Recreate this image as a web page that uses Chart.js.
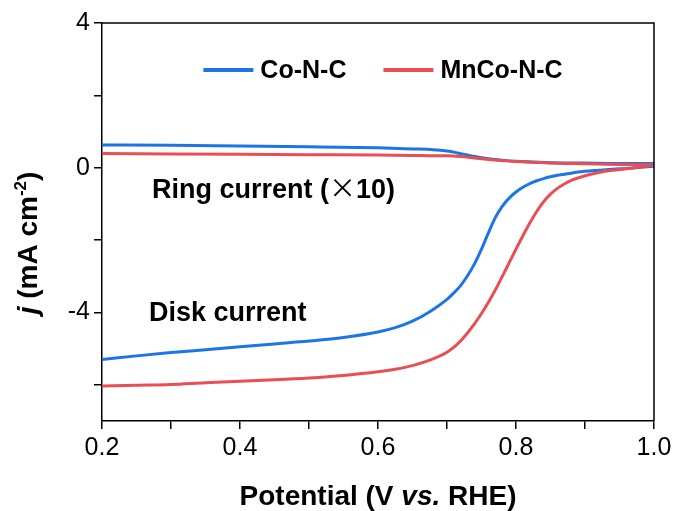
<!DOCTYPE html>
<html>
<head>
<meta charset="utf-8">
<script src="https://cdn.jsdelivr.net/npm/chart.js@4/dist/chart.umd.min.js"></script>
<style>
body { margin: 0; background: #fff; }
</style>
</head>
<body>
<canvas id="graph" width="678" height="511"></canvas>
<script>
// LSV data: potential (V vs. RHE), current density (mA cm-2)
var diskPotential = [0.20, 0.25, 0.30, 0.35, 0.40, 0.45, 0.50, 0.55, 0.60, 0.625, 0.65, 0.675,
    0.70, 0.71, 0.72, 0.73, 0.74, 0.75, 0.76, 0.77, 0.78, 0.79, 0.80, 0.81, 0.82, 0.83, 0.84, 0.85,
    0.86, 0.87, 0.88, 0.89, 0.90, 0.92, 0.94, 0.96, 0.98, 1.00]
var diskCoNC = [-5.30, -5.20, -5.11, -5.03, -4.95, -4.87, -4.79, -4.69, -4.54, -4.42, -4.24, -3.98,
    -3.64, -3.46, -3.25, -2.98, -2.65, -2.25, -1.80, -1.38, -1.07, -0.84, -0.67, -0.54, -0.44, -0.36, -0.30, -0.25,
    -0.21, -0.18, -0.15, -0.12, -0.10, -0.07, -0.04, -0.02, 0.01, 0.04]
var diskMnCoNC = [-6.03, -6.01, -5.99, -5.94, -5.90, -5.86, -5.81, -5.74, -5.64, -5.57, -5.47, -5.32,
    -5.10, -4.96, -4.78, -4.56, -4.31, -4.03, -3.72, -3.38, -3.01, -2.63, -2.25, -1.88, -1.53, -1.21, -0.94, -0.73,
    -0.57, -0.45, -0.35, -0.28, -0.22, -0.13, -0.07, -0.03, 0.02, 0.07]

// ring current, already multiplied by 10
var ringPotential = [0.20, 0.30, 0.40, 0.50, 0.60, 0.65, 0.68, 0.70, 0.72, 0.74, 0.76, 0.78, 0.80, 0.85, 0.90, 0.95, 1.00]
var ringCoNC = [0.63, 0.62, 0.60, 0.58, 0.55, 0.52, 0.50, 0.46, 0.39, 0.31, 0.25, 0.21, 0.18, 0.14, 0.13, 0.12, 0.12]
var ringMnCoNC = [0.39, 0.38, 0.37, 0.36, 0.35, 0.34, 0.33, 0.33, 0.31, 0.27, 0.23, 0.20, 0.17, 0.13, 0.11, 0.09, 0.08]

var seriesNames = ['Co-N-C', 'MnCo-N-C']
var xMajor = [0.2, 0.4, 0.6, 0.8, 1.0]
var xMinor = [0.3, 0.5, 0.7, 0.9]
var yMajor = [-4, 0, 4]
var yMinor = [-6, -2, 2]

var BLUE = 'rgb(28,117,232)'
var RED = 'rgb(233,78,83)'
var FONT = "'Liberation Sans', Arial, sans-serif"

function pts(xs, ys) {
    return xs.map(function (x, i) { return { x: x, y: ys[i] } })
}

function line(label, data, color) {
    return {
        label: label,
        data: data,
        borderColor: color,
        backgroundColor: color,
        borderWidth: 3,
        pointRadius: 0,
        cubicInterpolationMode: 'monotone',
        fill: false
    }
}

// draw a run of text pieces with their own fonts, baseline at y
function drawParts(ctx, parts, x, y) {
    parts.forEach(function (p) {
        ctx.font = p.font
        ctx.fillText(p.text, x, y + (p.dy || 0))
        x += ctx.measureText(p.text).width
    })
}

function partsWidth(ctx, parts) {
    var w = 0
    parts.forEach(function (p) { ctx.font = p.font; w += ctx.measureText(p.text).width })
    return w
}

var decorations = {
    id: 'decorations',
    afterDraw: function (chart) {
        var ctx = chart.ctx
        var a = chart.chartArea
        var xs = chart.scales.x
        var ys = chart.scales.y
        ctx.save()

        // top and right frame
        ctx.strokeStyle = '#000'
        ctx.lineWidth = 1.5
        ctx.beginPath()
        ctx.moveTo(a.left, a.top)
        ctx.lineTo(a.right, a.top)
        ctx.lineTo(a.right, a.bottom)
        ctx.stroke()

        ctx.fillStyle = '#000'
        ctx.textBaseline = 'alphabetic'
        ctx.textAlign = 'left'

        // legend inside the plot
        var lf = 'bold 25px ' + FONT
        ctx.font = lf
        var total = 0
        seriesNames.forEach(function (n, i) {
            total += 57 + ctx.measureText(n).width + (i ? 0 : 37)
        })
        var lx = (a.left + a.right) / 2 + 5 - total / 2
        seriesNames.forEach(function (n, i) {
            var ds = chart.data.datasets.find(function (d) { return d.label === n })
            ctx.strokeStyle = ds.borderColor
            ctx.lineWidth = 4
            ctx.beginPath()
            ctx.moveTo(lx, 70)
            ctx.lineTo(lx + 50, 70)
            ctx.stroke()
            ctx.font = lf
            ctx.fillText(n, lx + 57, 78)
            lx += 57 + ctx.measureText(n).width + 37
        })

        // annotations
        var bold = 'bold 27px ' + FONT
        drawParts(ctx, [
            { text: 'Ring current (', font: bold },
            { text: '\u00d7', font: "27px 'Noto Sans CJK SC', sans-serif" },
            { text: '10)', font: bold }
        ], xs.getPixelForValue(0.2725), ys.getPixelForValue(-0.83))
        drawParts(ctx, [{ text: 'Disk current', font: bold }],
            xs.getPixelForValue(0.268), ys.getPixelForValue(-4.24))

        // x axis title
        var tb = 'bold 28px ' + FONT
        var xt = [
            { text: 'Potential (V ', font: tb },
            { text: 'vs.', font: 'italic bold 28px ' + FONT },
            { text: ' RHE)', font: tb }
        ]
        drawParts(ctx, xt, (a.left + a.right) / 2 - partsWidth(ctx, xt) / 2, 505)

        // y axis title, rotated
        var yt = [
            { text: 'j', font: 'italic bold 28px ' + FONT },
            { text: ' (mA cm', font: tb },
            { text: '-2', font: 'bold 17px ' + FONT, dy: -11 },
            { text: ')', font: tb }
        ]
        ctx.translate(37, 243)
        ctx.rotate(-Math.PI / 2)
        drawParts(ctx, yt, -partsWidth(ctx, yt) / 2, 0)

        ctx.restore()
    }
}

var ctx = document.getElementById('graph').getContext('2d')

var myChart = new Chart(ctx, {
    type: 'line',
    data: {
        datasets: [
            line('MnCo-N-C', pts(diskPotential, diskMnCoNC), RED),
            line('MnCo-N-C ring', pts(ringPotential, ringMnCoNC), RED),
            line('Co-N-C', pts(diskPotential, diskCoNC), BLUE),
            line('Co-N-C ring', pts(ringPotential, ringCoNC), BLUE)
        ]
    },
    options: {
        responsive: false,
        animation: false,
        devicePixelRatio: 1,
        layout: {
            padding: { top: 23, right: 24, left: 0, bottom: 0 }
        },
        plugins: {
            legend: { display: false },
            tooltip: { enabled: false }
        },
        scales: {
            x: {
                type: 'linear',
                min: 0.2,
                max: 1.0,
                afterBuildTicks: function (scale) {
                    scale.ticks = xMajor.concat(xMinor).sort().map(function (v) { return { value: v } })
                },
                afterFit: function (scale) { scale.height = 90 },
                grid: { drawOnChartArea: false, drawTicks: true, tickLength: 8, color: '#000', lineWidth: 1.5 },
                border: { color: '#000', width: 1.5 },
                ticks: {
                    autoSkip: false,
                    maxRotation: 0,
                    padding: 4,
                    color: '#000',
                    font: { family: FONT, size: 25 },
                    callback: function (v) {
                        return xMajor.indexOf(v) >= 0 ? v.toFixed(1) : ''
                    }
                }
            },
            y: {
                type: 'linear',
                min: -7,
                max: 4,
                afterBuildTicks: function (scale) {
                    scale.ticks = yMajor.concat(yMinor).sort(function (p, q) { return p - q }).map(function (v) { return { value: v } })
                },
                afterFit: function (scale) { scale.width = 102 },
                grid: { drawOnChartArea: false, drawTicks: true, tickLength: 8, color: '#000', lineWidth: 1.5 },
                border: { color: '#000', width: 1.5 },
                ticks: {
                    autoSkip: false,
                    padding: 4,
                    color: '#000',
                    font: { family: FONT, size: 25 },
                    callback: function (v) {
                        return yMajor.indexOf(v) >= 0 ? String(v) : ''
                    }
                }
            }
        }
    },
    plugins: [decorations]
})
</script>
</body>
</html>
